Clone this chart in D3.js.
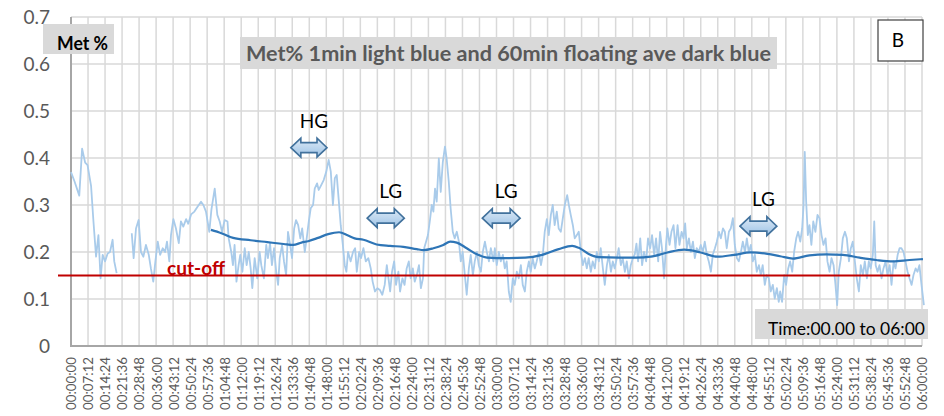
<!DOCTYPE html>
<html>
<head>
<meta charset="utf-8">
<script src="https://cdn.jsdelivr.net/npm/d3@7"></script>
<style>
  body { margin: 0; background: #fff; }
  svg { display: block; font-family: Lato, "Open Sans", sans-serif; }
</style>
</head>
<body>
<svg id="chart" width="944" height="416"></svg>
<script>
// time axis categories (every 7:12)
var timeLabels = ["00:00:00","00:07:12","00:14:24","00:21:36","00:28:48","00:36:00","00:43:12","00:50:24","00:57:36",
  "01:04:48","01:12:00","01:19:12","01:26:24","01:33:36","01:40:48","01:48:00","01:55:12","02:02:24","02:09:36",
  "02:16:48","02:24:00","02:31:12","02:38:24","02:45:36","02:52:48","03:00:00","03:07:12","03:14:24","03:21:36",
  "03:28:48","03:36:00","03:43:12","03:50:24","03:57:36","04:04:48","04:12:00","04:19:12","04:26:24","04:33:36",
  "04:40:48","04:48:00","04:55:12","05:02:24","05:09:36","05:16:48","05:24:00","05:31:12","05:38:24","05:45:36",
  "05:52:48","06:00:00"];
var yTicks = [0, 0.1, 0.2, 0.3, 0.4, 0.5, 0.6, 0.7];

// 1 min Met% (light blue), minutes from 00:00 and value; null = gap
var lightMin = [0,1.5,3.5,4.7,6,7,8.5,9.5,10.6,11.6,12.5,13.4,14.4,15.5,16.5,17.6,18.3,19.3,22,
  25.7,26.5,27.5,28.6,29.6,30.6,31.7,32.9,33.8,34.8,35.7,36.7,37.7,38.8,39.8,40.6,41.6,42.3,43.3,44.4,45.6,46.5,47.5,48.7,49.6,50.8,52.2,53.6,55,56,57.1,58.5,
  59.4,60.8,61.9,62.9,63.9,65,66.2,66.7,67.8,68.5,69.2,70,70.9,71.6,72.5,73.5,74.3,75.2,76,76.7,77.7,78.8,79.8,80.5,81.6,82.6,83.3,84.2,85,85.9,86.8,87.6,88.3,89.3,90.1,91,91.8,92.7,93.5,94.4,95.2,96.1,97,97.8,98.9,99.7,
  100.6,101.4,102.4,103.1,104.1,104.8,105.9,106.9,108,109,109.9,110.8,111.6,112.4,113.2,114.1,115,115.8,116.5,117.2,118.3,119.3,
  120.2,120.9,121.9,122.7,123.7,124.7,125.8,126.8,127.6,128.6,129.6,130.7,131.7,132.7,133.6,134.3,135,135.8,136.7,137.5,138.5,139.2,140.2,141.1,142,142.9,143.7,144.6,145.4,146.3,147.2,148,148.9,149.4,
  150.2,151,151.9,152.6,153.3,154,154.7,155.6,156.4,157.3,158.2,158.9,159.8,160.6,161.5,162.3,163.2,164.1,164.9,165.7,166.6,167.4,168.3,169.1,170,170.8,171.7,172.5,173.4,174.2,175.1,175.9,176.8,177.6,178.7,
  179.3,180.1,181,181.8,182.7,183.5,184.3,185.2,186,186.9,187.7,188.6,189.4,190.3,191.1,192,192.8,193.7,194.5,195.3,196.2,197,197.9,198.8,199.6,
  200.4,201.3,202.1,203,203.8,204.6,205.5,206.3,207.2,208,208.9,209.9,210.6,211.4,212.3,213.1,214,214.8,215.7,216.5,217.4,218.2,219,219.9,220.7,221.6,222.4,223.3,224.1,225,225.8,226.7,227.5,228.4,229.2,
  230,230.9,231.7,232.6,233.4,234.3,235.1,236,236.8,237.7,238.5,239.2,239.9,240.8,241.6,242.4,243.3,244.1,245,245.8,246.7,247.5,248.4,249.2,250,250.9,251.7,252.3,253.2,254,254.9,255.7,256.6,257.4,258.3,259.1,259.8,
  260.5,261.4,262.2,263.1,263.9,264.7,265.6,266.4,267.3,268.1,269,269.8,270.7,271.5,272.4,273.2,274.1,274.9,275.8,276.6,277.4,278.3,279.1,280,280.8,281.7,282.5,283.4,284.2,285.1,285.9,286.7,287.6,288.4,289.3,
  290.1,291,291.8,292.6,293.5,294.3,295.2,296,296.9,297.7,298.6,299.4,300,300.8,301.7,302.5,303.4,304.2,305.1,305.9,306.8,307.6,308.5,309.3,309.9,310.4,311,311.7,312.4,313.2,314,314.9,315.8,316.6,317.5,318.3,319.2,
  320,320.9,321.7,322.6,323.4,324.1,324.8,325.7,326.5,327.4,328.2,329.1,329.9,330.7,331.6,332.4,333.3,334.1,335,335.8,336.7,337.5,338.3,339.2,339.8,340.4,341.2,342,342.9,343.7,344.6,345.4,346.3,347.1,348,348.8,349.7,
  350.5,351.3,352.2,353,353.9,354.7,355.6,356.4,357.3,358.1,358.9,359.8,360.8];
var lightVal = [0.37,0.35,0.32,0.42,0.39,0.385,0.34,0.265,0.19,0.236,0.144,0.194,0.18,0.197,0.2,0.226,0.18,0.155,null,
  0.24,0.187,0.25,0.268,0.2,0.19,0.215,0.194,0.165,0.137,0.18,0.222,0.194,0.208,0.2,0.222,0.18,0.236,0.27,0.25,0.219,0.265,0.254,0.27,0.26,0.28,0.286,0.297,0.307,0.3,0.286,0.243,
  0.29,0.335,0.279,0.265,0.243,0.268,0.265,0.229,0.2,0.172,0.215,0.137,0.172,0.194,0.158,0.208,0.172,0.2,0.165,0.123,0.187,0.144,0.2,0.172,0.144,0.215,0.187,0.219,0.172,0.208,0.158,0.13,0.187,0.215,0.18,0.151,0.243,0.215,0.187,0.25,0.268,0.257,0.229,0.25,0.2,0.229,
  0.265,0.293,0.3,0.335,0.346,0.332,0.343,0.353,0.371,0.396,0.371,0.3,0.357,0.364,0.314,0.257,0.215,0.172,0.158,0.2,0.18,0.2,
  0.208,0.158,0.2,0.187,0.208,0.18,0.187,0.165,0.137,0.116,0.123,0.119,0.109,0.13,0.172,0.144,0.116,0.158,0.18,0.13,0.158,0.116,0.144,0.13,0.165,0.18,0.144,0.165,0.137,0.151,0.172,0.123,0.144,0.208,
  0.222,0.236,0.27,0.3,0.286,0.335,0.307,0.399,0.328,0.392,0.424,0.399,0.35,0.293,0.243,0.229,0.243,0.222,0.18,0.2,0.151,0.109,0.165,0.194,0.151,0.18,0.2,0.172,0.158,0.2,0.222,0.2,0.18,0.208,0.18,
  0.208,0.172,0.2,0.18,0.194,0.165,0.18,0.116,0.094,0.144,0.13,0.158,0.144,0.172,0.13,0.116,0.158,0.18,0.158,0.187,0.165,0.18,0.2,0.172,0.194,
  0.243,0.27,0.236,0.279,0.3,0.257,0.286,0.25,0.243,0.27,0.3,0.321,0.3,0.279,0.257,0.229,0.236,0.243,0.2,0.172,0.187,0.165,0.187,0.158,0.18,0.165,0.2,0.18,0.208,0.165,0.13,0.172,0.194,0.158,0.18,
  0.165,0.187,0.208,0.172,0.187,0.158,0.18,0.144,0.172,0.187,0.195,0.218,0.18,0.229,0.172,0.2,0.18,0.229,0.208,0.236,0.194,0.229,0.18,0.243,0.208,0.144,0.215,0.25,0.215,0.243,0.257,0.208,0.257,0.215,0.243,0.229,0.261,
  0.208,0.229,0.2,0.222,0.187,0.208,0.2,0.215,0.2,0.222,0.194,0.18,0.158,0.194,0.208,0.222,0.243,0.229,0.25,0.243,0.208,0.243,0.25,0.272,0.215,0.187,0.18,0.2,0.222,0.2,0.229,0.2,0.215,0.18,0.194,
  0.158,0.172,0.151,0.172,0.13,0.151,0.144,0.116,0.13,0.101,0.123,0.094,0.116,0.094,0.151,0.13,0.165,0.18,0.158,0.2,0.229,0.243,0.222,0.25,0.3,0.413,0.307,0.236,0.257,0.215,0.265,0.243,0.279,0.272,0.236,0.215,0.229,
  0.18,0.158,0.187,0.172,0.13,0.087,0.158,0.187,0.229,0.243,0.229,0.18,0.208,0.222,0.18,0.144,0.116,0.172,0.151,0.18,0.144,0.18,0.165,0.194,0.265,0.172,0.158,0.172,0.144,0.165,0.18,0.151,0.172,0.13,0.18,0.165,0.194,
  0.208,0.208,0.2,0.18,0.158,0.144,0.13,0.151,0.165,0.158,0.172,0.13,0.087];

// 60 min floating average (dark blue)
var avgMin = [59.2,63.6,68.6,76,83,90,94,97.5,100.3,104.5,108.8,113.4,117.2,120,123.7,129.3,135,140.6,146.3,149.1,
  153.3,157.5,160.4,163.2,167.4,171.7,176,180,185.2,192.2,199.3,206.3,212,214.8,219,223.3,231.7,239,245.3,252.3,
  259.4,266.4,273.5,280.5,287.6,294.6,300,305.4,312.4,319.5,326.5,333.6,340.6,347.7,354.7,360.4];
var avgVal = [0.247,0.24,0.23,0.225,0.221,0.217,0.215,0.22,0.223,0.23,0.238,0.242,0.235,0.229,0.226,0.216,0.213,0.211,0.206,0.204,
  0.208,0.215,0.222,0.22,0.208,0.195,0.188,0.187,0.187,0.188,0.194,0.206,0.213,0.209,0.196,0.189,0.188,0.188,0.19,0.199,
  0.205,0.199,0.19,0.194,0.199,0.196,0.191,0.186,0.193,0.195,0.194,0.188,0.183,0.18,0.183,0.185];

// cut-off level and its drawn extent (minutes)
var cutoff = 0.15;
var cutoffFrom = -5.5, cutoffTo = 355;

// HG / LG double arrows
var annoText = ["HG", "LG", "LG", "LG"];
var arrowFrom = [93, 125.3, 174, 283];
var arrowTo = [108.3, 141, 190, 298.6];
var arrowLevel = [0.422, 0.272, 0.272, 0.255];

var W = 944, H = 416;
var margin = {top: 17, right: 22, bottom: 70, left: 71};
var svg = d3.select("#chart");

var x = d3.scaleLinear().domain([0, 360]).range([margin.left, W - margin.right]);
var xCat = d3.scalePoint().domain(timeLabels).range([margin.left, W - margin.right]);
var y = d3.scaleLinear().domain([0, 0.7]).range([H - margin.bottom, margin.top]);

// grid
var grid = svg.append("g").attr("stroke", "#d9d9d9").attr("stroke-width", 1.5);
grid.selectAll(".hg").data(yTicks.slice(1)).enter().append("line")
  .attr("x1", margin.left).attr("x2", W - margin.right)
  .attr("y1", function(d){ return y(d); }).attr("y2", function(d){ return y(d); });
grid.selectAll(".vg").data(timeLabels.slice(1)).enter().append("line")
  .attr("x1", function(d){ return xCat(d); }).attr("x2", function(d){ return xCat(d); })
  .attr("y1", y(0)).attr("y2", y(0.7));

// axes
var yAxis = svg.append("g").attr("transform", "translate(" + margin.left + ",0)")
  .call(d3.axisLeft(y).tickValues(yTicks).tickSize(0).tickPadding(21).tickFormat(function(d){ return d === 0 ? "0" : d3.format(".1f")(d); }));
yAxis.select(".domain").remove();
yAxis.selectAll("text").attr("fill", "#595959").style("font-size", "19px").style("font-family", "Lato, sans-serif");

var xAxis = svg.append("g").attr("transform", "translate(0," + y(0) + ")")
  .call(d3.axisBottom(xCat).tickSize(0));
xAxis.select(".domain").remove();
xAxis.selectAll("text")
  .attr("transform", "rotate(-90)")
  .attr("text-anchor", "end")
  .attr("x", -11).attr("y", 0).attr("dy", "0.35em")
  .attr("textLength", 53).attr("lengthAdjust", "spacingAndGlyphs")
  .attr("fill", "#595959").style("font-size", "14px").style("font-family", "Lato, sans-serif");

svg.append("line").attr("x1", margin.left).attr("x2", W - margin.right)
  .attr("y1", y(0)).attr("y2", y(0)).attr("stroke", "#a6a6a6").attr("stroke-width", 2);
svg.append("line").attr("x1", margin.left).attr("x2", margin.left)
  .attr("y1", y(0) + 1).attr("y2", y(0.7)).attr("stroke", "#a6a6a6").attr("stroke-width", 2);

// series
var light = lightMin.map(function(m, i){ return {m: m, v: lightVal[i]}; });
var avg = avgMin.map(function(m, i){ return {m: m, v: avgVal[i]}; });

svg.append("path").datum(light)
  .attr("fill", "none").attr("stroke", "#a9cbea").attr("stroke-width", 1.8).attr("stroke-linejoin", "round")
  .attr("d", d3.line().defined(function(d){ return d.v !== null; })
    .x(function(d){ return x(d.m); }).y(function(d){ return y(d.v); }));

svg.append("line")
  .attr("x1", x(cutoffFrom)).attr("x2", x(cutoffTo))
  .attr("y1", y(cutoff)).attr("y2", y(cutoff))
  .attr("stroke", "#c00000").attr("stroke-width", 2);

svg.append("path").datum(avg)
  .attr("fill", "none").attr("stroke", "#2e75b6").attr("stroke-width", 2.2)
  .attr("d", d3.line().curve(d3.curveMonotoneX)
    .x(function(d){ return x(d.m); }).y(function(d){ return y(d.v); }));

svg.append("text").attr("x", 167).attr("y", y(cutoff) - 1)
  .attr("fill", "#c00000").style("font-weight", "bold").style("font-size", "19px")
  .attr("textLength", 58).attr("lengthAdjust", "spacingAndGlyphs")
  .text("cut-off");

// arrows
function arrowPath(x1, x2, cy) {
  var hh = 9.5, sh = 5, hl = 10;
  return "M" + x1 + "," + cy +
    "L" + (x1 + hl) + "," + (cy - hh) + "L" + (x1 + hl) + "," + (cy - sh) +
    "L" + (x2 - hl) + "," + (cy - sh) + "L" + (x2 - hl) + "," + (cy - hh) +
    "L" + x2 + "," + cy +
    "L" + (x2 - hl) + "," + (cy + hh) + "L" + (x2 - hl) + "," + (cy + sh) +
    "L" + (x1 + hl) + "," + (cy + sh) + "L" + (x1 + hl) + "," + (cy + hh) + "Z";
}
var defs = svg.append("defs");
var grad = defs.append("linearGradient").attr("id", "arrowFill").attr("x1", 0).attr("y1", 0).attr("x2", 0).attr("y2", 1);
grad.append("stop").attr("offset", "0%").attr("stop-color", "#dce9f6");
grad.append("stop").attr("offset", "100%").attr("stop-color", "#9dc3e6");

var annos = svg.selectAll(".anno").data(annoText).enter().append("g");
annos.append("path")
  .attr("d", function(d, i){ return arrowPath(x(arrowFrom[i]), x(arrowTo[i]), y(arrowLevel[i])); })
  .attr("fill", "url(#arrowFill)").attr("stroke", "#41719c").attr("stroke-width", 1.6);
annos.append("text")
  .attr("x", function(d, i){ return (x(arrowFrom[i]) + x(arrowTo[i])) / 2 + 5; })
  .attr("y", function(d, i){ return y(arrowLevel[i]) - 20; })
  .attr("text-anchor", "middle").style("font-size", "19px").attr("fill", "#000")
  .text(function(d){ return d; });

// label boxes
svg.append("rect").attr("x", 43).attr("y", 24).attr("width", 71).attr("height", 30).attr("fill", "#d9d9d9");
svg.append("text").attr("x", 57).attr("y", 50).style("font-weight", "bold").style("font-size", "18px")
  .attr("textLength", 51).attr("lengthAdjust", "spacingAndGlyphs").text("Met %");

svg.append("rect").attr("x", 240).attr("y", 37).attr("width", 537).attr("height", 32).attr("fill", "#d9d9d9");
svg.append("text").attr("x", 246).attr("y", 61).attr("fill", "#595959")
  .style("font-weight", "bold").style("font-size", "20px")
  .attr("textLength", 525).attr("lengthAdjust", "spacingAndGlyphs")
  .text("Met% 1min light blue and 60min floating ave dark blue");

svg.append("rect").attr("x", 878).attr("y", 20).attr("width", 45).attr("height", 41)
  .attr("fill", "#fff").attr("stroke", "#404040").attr("stroke-width", 1.2);
svg.append("text").attr("x", 898).attr("y", 47).attr("text-anchor", "middle").style("font-size", "19px").text("B");

svg.append("rect").attr("x", 755).attr("y", 309).attr("width", 173).attr("height", 30).attr("fill", "#d9d9d9");
svg.append("text").attr("x", 768).attr("y", 335).style("font-size", "18px")
  .attr("textLength", 157).attr("lengthAdjust", "spacingAndGlyphs")
  .text("Time:00.00 to 06:00");
</script>
</body>
</html>
